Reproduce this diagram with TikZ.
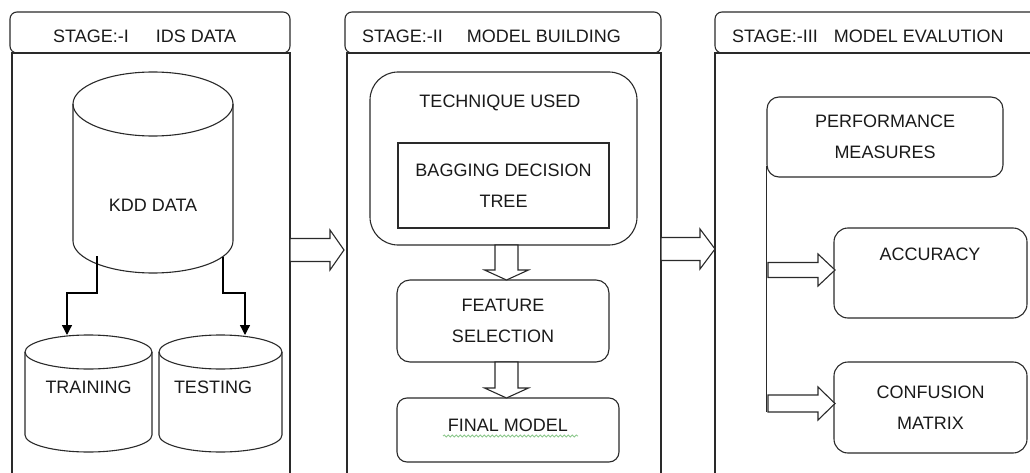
\documentclass[tikz,border=0pt]{standalone}
\usepackage{fontspec}
\setmainfont{Liberation Sans}
\usetikzlibrary{arrows.meta,decorations.pathmorphing}
\definecolor{linec}{HTML}{2A2A2A}
\definecolor{textc}{HTML}{1A1A1A}
\definecolor{spellg}{HTML}{8CC88C}
\newcommand{\barR}[6]{\draw[ln,fill=white] (#1,{#4+#5}) -- (#2,{#4+#5}) -- (#2,{#4+#6}) -- (#3,#4) -- (#2,{#4-#6}) -- (#2,{#4-#5}) -- (#1,{#4-#5}) -- cycle;}
\newcommand{\barD}[6]{\draw[ln,fill=white] ({#1-#5},#2) -- ({#1-#5},#3) -- ({#1-#6},#3) -- (#1,#4) -- ({#1+#6},#3) -- ({#1+#5},#3) -- ({#1+#5},#2) -- cycle;}
\begin{document}
\begin{tikzpicture}[x=1pt,y=1pt,
  ln/.style={draw=linec, line width=1.1pt},
  txt/.style={text=textc, font=\fontsize{18}{30.5}\selectfont, align=center, inner sep=0pt},
  hdr/.style={text=textc, font=\fontsize{18}{22}\selectfont, inner sep=0pt, anchor=base west},
  rbox/.style={ln, rounded corners=#1, text=textc, font=\fontsize{18}{30.5}\selectfont, align=center, inner sep=0pt},
  rbox/.default=12pt,
  conn/.style={draw=black, line width=1.3pt, -{Triangle[width=10pt,length=10pt]}}
]
\useasboundingbox (0,0) rectangle (1030,-473);
\clip (0,0) rectangle (1030,-473);

% ---------- Stage I ----------
\draw[ln] (12,-53) rectangle (290,-490);
\draw[ln, rounded corners=7pt] (10,-53) rectangle (290,-12);
\node[hdr] (h1) at (53,-43) {STAGE:-I\hspace{27pt}IDS DATA};

% KDD cylinder
\draw[ln, fill=white] (73,-104) -- (73,-241) arc[start angle=180, end angle=360, x radius=80, y radius=32] -- (233,-104);
\draw[ln] (153,-104) ellipse[x radius=80, y radius=32];
\node[txt] (kdd) at (153,-205) {KDD DATA};
\coordinate (kddL) at (97,-256);
\coordinate (kddR) at (223,-257);

% Training cylinder
\draw[ln] (25,-352) -- (25,-435) arc[start angle=180, end angle=360, x radius=63.5, y radius=17] -- (152,-352);
\draw[ln] (88.5,-352) ellipse[x radius=63.5, y radius=17];
\node[txt] (train) at (88.5,-387) {TRAINING};
\coordinate (trainIn) at (67,-335);

% Testing cylinder
\draw[ln] (159,-352) -- (159,-435) arc[start angle=180, end angle=360, x radius=61.5, y radius=17] -- (282,-352);
\draw[ln] (220.5,-352) ellipse[x radius=61.5, y radius=17];
\node[txt] (test) at (213,-387) {TESTING};
\coordinate (testIn) at (245,-335);

\draw[conn] (kddL) -- (kddL |- 0,-293) -| (trainIn);
\draw[conn] (kddR) -- (kddR |- 0,-293) -| (testIn);

% ---------- Stage II ----------
\draw[ln] (347,-53) rectangle (661,-490);
\draw[ln, rounded corners=7pt] (345,-53) rectangle (661,-12);
\node[hdr] (h2) at (362,-43) {STAGE:-II\hspace{24pt}MODEL BUILDING};

\node[rbox=28pt, minimum width=267, minimum height=173] (tech) at (503.5,-158.5) {};
\node[txt] (techt) at (500,-103) {TECHNIQUE USED};
\node[ln, text=textc, font=\fontsize{18}{30.5}\selectfont, align=center, inner sep=0pt, minimum width=211, minimum height=85] (bag) at (503.5,-185.5) {BAGGING DECISION\\TREE};

\node[rbox=13pt, minimum width=212, minimum height=82] (feat) at (503,-321) {FEATURE\\SELECTION};
\node[rbox=10pt, minimum width=222, minimum height=64, text depth=10pt] (final) at (508,-430) {FINAL MODEL};
\draw[draw=spellg, line width=0.8pt, decorate, decoration={snake, amplitude=1.1pt, segment length=4pt}] (final.center -| 443,0) ++(0,-6) coordinate (wA) -- (wA -| 578,0);

\barD{506.5}{-245}{-270}{-280}{11.5}{22}
\barD{506.5}{-362}{-388}{-398}{11.5}{22}

% ---------- Stage III ----------
\draw[ln] (715,-53) rectangle (1045,-490);
\draw[ln, rounded corners=7pt] (715,-53) rectangle (1045,-12);
\node[hdr] (h3) at (732,-43) {STAGE:-III\hspace{16pt}MODEL EVALUTION};

\node[rbox=12pt, minimum width=236, minimum height=80] (perf) at (885,-137) {PERFORMANCE\\MEASURES};
\node[rbox=14pt, minimum width=193, minimum height=90] (acc) at (930.5,-273) {};
\node[txt] (acct) at (930,-254) {ACCURACY};
\node[rbox=14pt, minimum width=193, minimum height=91] (conf) at (930.5,-407.5) {CONFUSION\\MATRIX};

\draw[ln] ([yshift=12pt]perf.south west) -- (perf.south west |- 0,-412);
\barR{768}{818}{835}{-270}{7.5}{16}
\barR{768}{818}{835}{-403.5}{8.5}{16.5}

% ---------- Panel arrows ----------
\barR{290}{330}{344}{-250}{11.5}{20}
\barR{661}{700}{715}{-249}{11.5}{20}
\end{tikzpicture}
\end{document}
